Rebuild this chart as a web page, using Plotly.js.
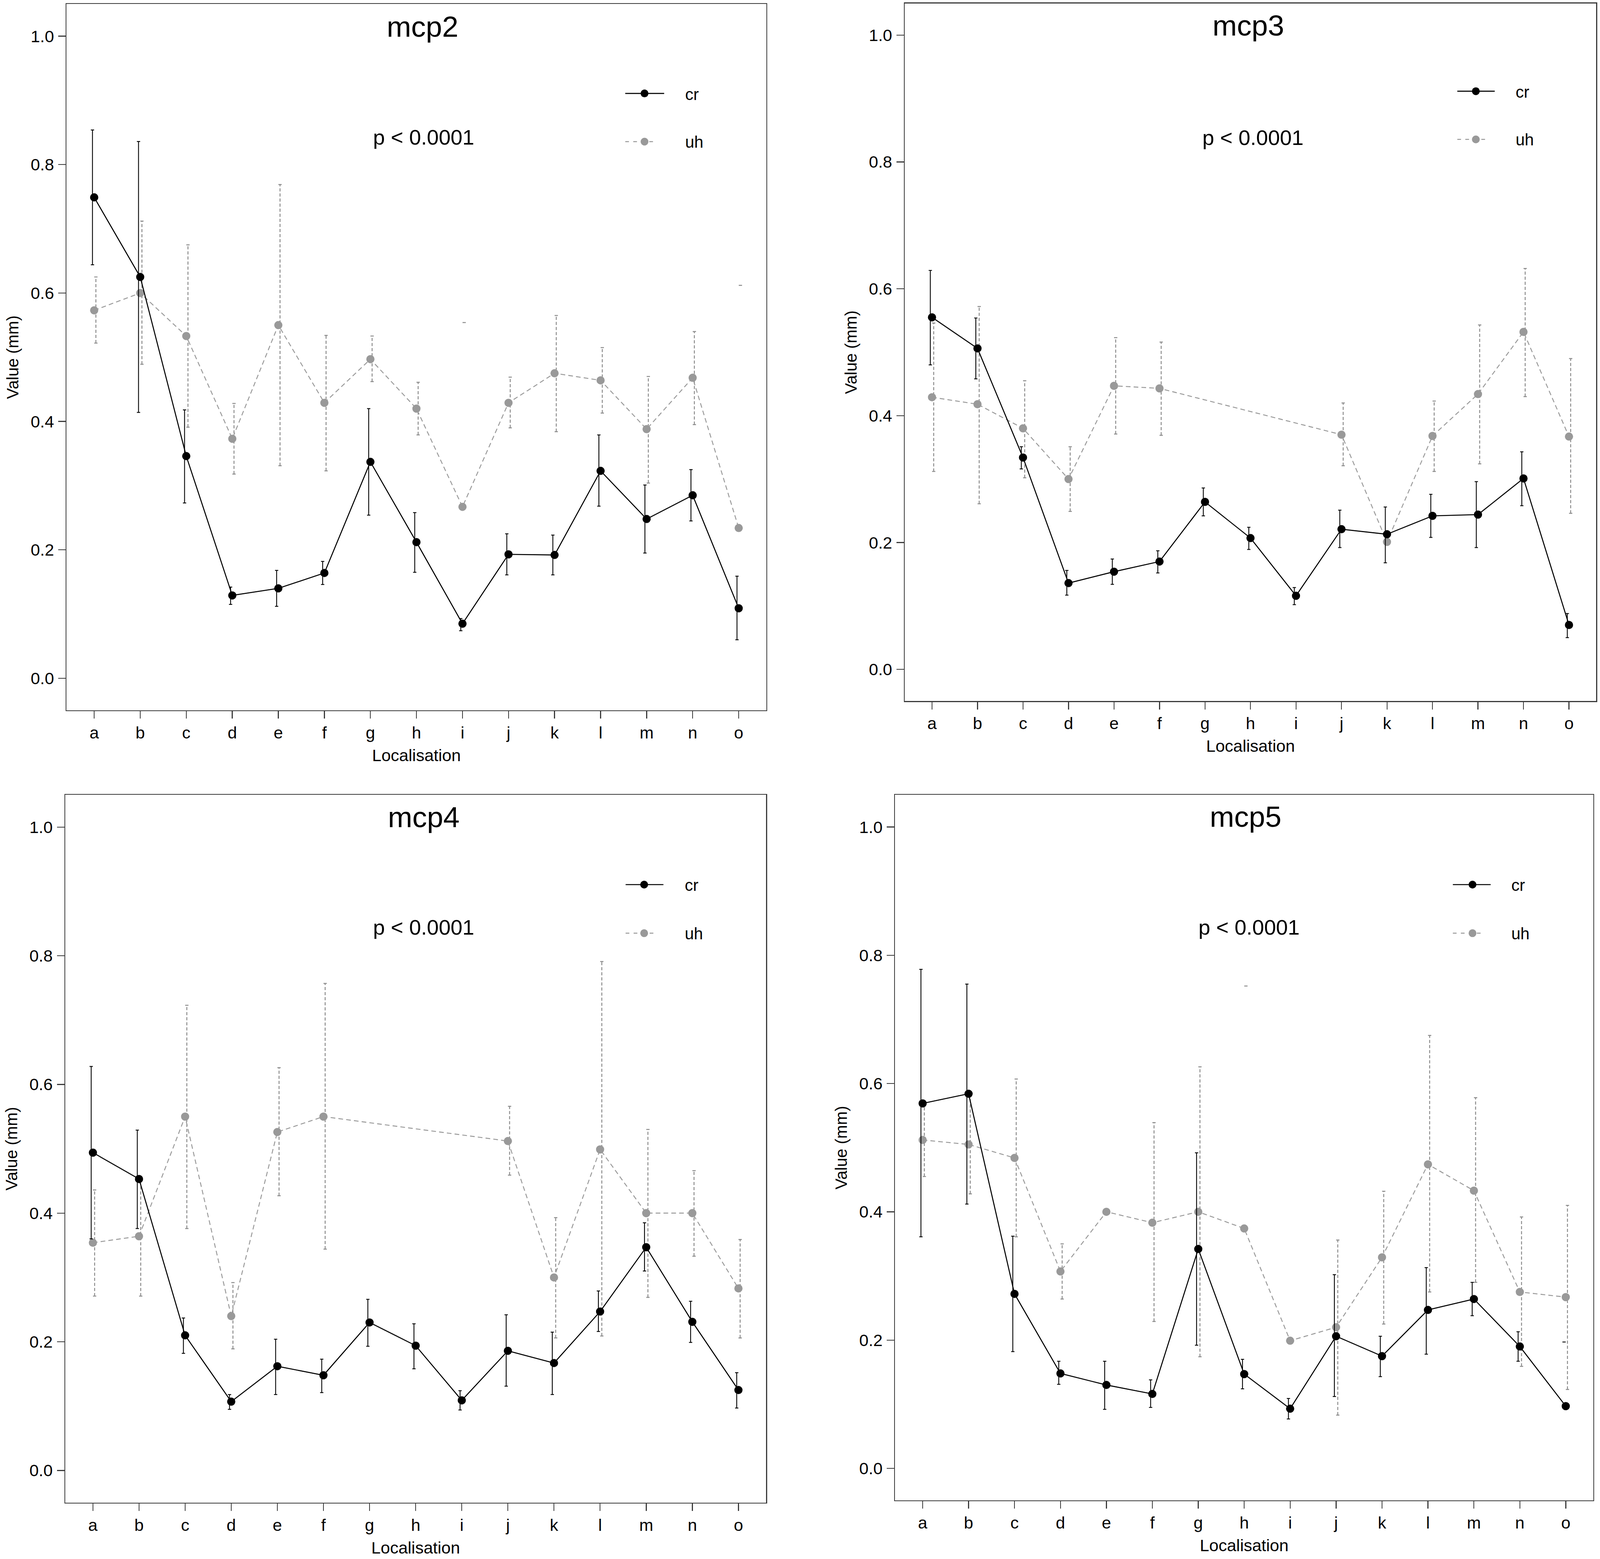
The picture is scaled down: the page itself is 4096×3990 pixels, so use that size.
<!DOCTYPE html>
<html><head><meta charset="utf-8">
<script src="https://cdn.plot.ly/plotly-3.0.1.min.js"></script>
<style>html,body{margin:0;padding:0;background:#fff;} #chart{width:4096px;height:3990px;}</style>
</head><body><div id="chart"></div>
<script>
// ---------- DATA ----------
const categories = ['a','b','c','d','e','f','g','h','i','j','k','l','m','n','o'];
const panelNames = ['mcp2','mcp3','mcp4','mcp5'];
const seriesNames = ['cr','uh'];
const pText = 'p < 0.0001';
const yTickVals = [0, 0.2, 0.4, 0.6, 0.8, 1.0];

// mcp2
const mcp2_cr    = [0.749,0.625,0.346,0.129,0.140,0.164,0.337,0.212,0.085,0.193,0.192,0.323,0.248,0.285,0.109];
const mcp2_cr_hi = [0.854,0.836,0.418,0.142,0.168,0.182,0.420,0.258,0.093,0.225,0.223,0.379,0.301,0.325,0.159];
const mcp2_cr_lo = [0.644,0.414,0.273,0.115,0.112,0.146,0.254,0.165,0.074,0.161,0.161,0.268,0.195,0.245,0.060];
const mcp2_uh    = [0.573,0.600,0.533,0.373,0.550,0.429,0.497,0.420,0.267,0.429,0.475,0.464,0.388,0.468,0.234];
const mcp2_uh_hi = [0.625,0.712,0.675,0.428,0.769,0.534,0.533,0.461,0.554,0.469,0.565,0.515,0.470,0.540,0.612];
const mcp2_uh_lo = [0.522,0.489,0.391,0.318,0.331,0.323,0.462,0.379,null,0.390,0.384,0.413,0.304,0.395,null];

// mcp3
const mcp3_cr    = [0.555,0.506,0.334,0.136,0.154,0.170,0.264,0.207,0.116,0.221,0.213,0.242,0.244,0.301,0.070];
const mcp3_cr_hi = [0.629,0.554,0.351,0.156,0.174,0.187,0.286,0.224,0.129,0.251,0.256,0.276,0.296,0.343,0.088];
const mcp3_cr_lo = [0.480,0.458,0.316,0.117,0.134,0.152,0.242,0.189,0.102,0.192,0.168,0.208,0.192,0.258,0.050];
const mcp3_uh    = [0.429,0.418,0.380,0.300,0.447,0.443,null,null,null,0.370,0.201,0.368,0.434,0.532,0.367];
const mcp3_uh_hi = [0.546,0.572,0.455,0.351,0.523,0.516,null,null,null,0.420,null,0.423,0.543,0.632,0.490];
const mcp3_uh_lo = [0.312,0.261,0.302,0.249,0.371,0.369,null,null,null,0.321,null,0.312,0.324,0.430,0.246];

// mcp4
const mcp4_cr    = [0.494,0.453,0.210,0.107,0.162,0.148,0.230,0.194,0.109,0.186,0.167,0.247,0.347,0.231,0.125];
const mcp4_cr_hi = [0.628,0.529,0.237,0.118,0.204,0.173,0.266,0.228,0.124,0.242,0.215,0.279,0.385,0.263,0.152];
const mcp4_cr_lo = [0.360,0.376,0.182,0.095,0.118,0.121,0.193,0.158,0.094,0.131,0.118,0.216,0.310,0.199,0.097];
const mcp4_uh    = [0.354,0.364,0.550,0.240,0.526,0.550,null,null,null,0.512,0.300,0.499,0.400,0.400,0.283];
const mcp4_uh_hi = [0.436,0.455,0.723,0.292,0.626,0.757,null,null,null,0.566,0.393,0.791,0.530,0.466,0.359];
const mcp4_uh_lo = [0.271,0.271,0.376,0.189,0.427,0.344,null,null,null,0.459,0.206,0.209,0.269,0.333,0.206];

// mcp5
const mcp5_cr    = [0.569,0.584,0.272,0.148,0.130,0.116,0.342,0.147,0.093,0.206,0.175,0.247,0.264,0.190,0.097];
const mcp5_cr_hi = [0.778,0.755,0.362,0.167,0.167,0.138,0.492,0.170,0.109,0.302,0.206,0.313,0.290,0.213,0.197];
const mcp5_cr_lo = [0.361,0.412,0.182,0.131,0.092,0.095,0.192,0.124,0.077,0.112,0.143,0.178,0.238,0.167,null];
const mcp5_uh    = [0.512,0.505,0.484,0.307,0.400,0.383,0.400,0.374,0.199,0.220,0.329,0.474,0.433,0.275,0.267];
const mcp5_uh_hi = [0.567,0.582,0.607,0.350,null,0.539,0.626,0.752,null,0.356,0.432,0.675,0.578,0.392,0.410];
const mcp5_uh_lo = [0.455,0.428,0.361,0.264,null,0.229,0.174,null,null,0.083,0.225,0.275,0.290,0.159,0.123];

// ---------- STYLE / LAYOUT ----------
const REFW = 4317, REFH = 4205;
const px = X => X / REFW;
const py = Y => 1 - Y / REFH;
const FONT = 'Liberation Sans, Arial, Helvetica, sans-serif';
const BLACK = '#000000', GRAY = '#999999', BARGRAY = '#8a8a8a', AXC = '#3a3a3a';
const OFF = 0.037;

const panels = [
  {cr:mcp2_cr, crLo:mcp2_cr_lo, crHi:mcp2_cr_hi, uh:mcp2_uh, uhLo:mcp2_uh_lo, uhHi:mcp2_uh_hi,
   xd:[0.04160,0.47895], yd:[0.54435,0.99738], title:[1140,72], p:[1143,370],
   leg:{x0:1687,x1:1792,xm:1739,xt:1847,y1:252,y2:382}},
  {cr:mcp3_cr, crLo:mcp3_cr_lo, crHi:mcp3_cr_hi, uh:mcp3_uh, uhLo:mcp3_uh_lo, uhHi:mcp3_uh_hi,
   xd:[0.56544,0.99768], yd:[0.55030,0.99786], title:[3368,68], p:[3381,371],
   leg:{x0:3932,x1:4033,xm:3982,xt:4087,y1:246,y2:376}},
  {cr:mcp4_cr, crLo:mcp4_cr_lo, crHi:mcp4_cr_hi, uh:mcp4_uh, uhLo:mcp4_uh_lo, uhHi:mcp4_uh_hi,
   xd:[0.04077,0.47881], yd:[0.03615,0.49013], title:[1143,2204], p:[1143,2501],
   leg:{x0:1688,x1:1790,xm:1738,xt:1845,y1:2386,y2:2517}},
  {cr:mcp5_cr, crLo:mcp5_cr_lo, crHi:mcp5_cr_hi, uh:mcp5_uh, uhLo:mcp5_uh_lo, uhHi:mcp5_uh_hi,
   xd:[0.55942,0.99583], yd:[0.03757,0.49013], title:[3361,2203], p:[3370,2501],
   leg:{x0:3920,x1:4022,xm:3973,xt:4076,y1:2386,y2:2517}}
];

const xpos = categories.map((c, i) => i + 1);

function barTraces(vals, lo, hi, off, color, width, dash, xa, ya) {
  const bx = [], by = [], cx = [], cy = [];
  vals.forEach((v, i) => {
    const x = xpos[i] + off;
    if (lo[i] != null && hi[i] != null) { bx.push(x, x, null); by.push(lo[i], hi[i], null); }
    if (lo[i] != null) { cx.push(x); cy.push(lo[i]); }
    if (hi[i] != null) { cx.push(x); cy.push(hi[i]); }
  });
  return [
    {type:'scatter', mode:'lines', x:bx, y:by, xaxis:xa, yaxis:ya, showlegend:false, hoverinfo:'skip',
     line:{color:color, width:width, dash:dash}},
    {type:'scatter', mode:'markers', x:cx, y:cy, xaxis:xa, yaxis:ya, showlegend:false, hoverinfo:'skip',
     marker:{symbol:'line-ew', size:6, line:{color:color, width:width}}}
  ];
}

const data = [];
const layout = {
  width:4096, height:3990, margin:{l:0,r:0,t:0,b:0}, paper_bgcolor:'#fff', plot_bgcolor:'#fff',
  showlegend:false, font:{family:FONT, color:'#000', size:43},
  annotations:[], shapes:[]
};

panels.forEach((P, k) => {
  const n = k === 0 ? '' : String(k + 1);
  const xa = 'x' + n, ya = 'y' + n;
  // gray (uh) first
  data.push(...barTraces(P.uh, P.uhLo, P.uhHi, OFF, BARGRAY, 2.4, '8px,5px', xa, ya));
  data.push({type:'scatter', mode:'lines+markers', name:seriesNames[1], x:xpos, y:P.uh, xaxis:xa, yaxis:ya,
    connectgaps:true, line:{color:GRAY, width:2.4, dash:'12px,8px'}, marker:{color:GRAY, size:21}});
  // black (cr)
  data.push(...barTraces(P.cr, P.crLo, P.crHi, -OFF, BLACK, 2.2, 'solid', xa, ya));
  data.push({type:'scatter', mode:'lines+markers', name:seriesNames[0], x:xpos, y:P.cr, xaxis:xa, yaxis:ya,
    line:{color:BLACK, width:2.6}, marker:{color:BLACK, size:21}});

  layout['xaxis' + n] = {
    domain:P.xd, anchor:ya, range:[0.4, 15.6], tickvals:xpos, ticktext:categories,
    ticks:'outside', ticklen:19, tickwidth:2.4, tickcolor:AXC,
    showline:true, mirror:true, linecolor:AXC, linewidth:2.4, showgrid:false, zeroline:false,
    tickfont:{family:FONT, size:43, color:'#000'}, ticklabelstandoff:-1,
    title:{text:'Localisation', font:{family:FONT, size:43, color:'#000'}, standoff:20}
  };
  layout['yaxis' + n] = {
    domain:P.yd, anchor:xa, range:[-0.05, 1.05], tickvals:yTickVals, tickformat:'.1f',
    ticks:'outside', ticklen:19, tickwidth:2.4, tickcolor:AXC,
    showline:true, mirror:true, linecolor:AXC, linewidth:2.4, showgrid:false, zeroline:false,
    tickfont:{family:FONT, size:43, color:'#000'}, ticklabelstandoff:2,
    title:{text:'Value (mm)', font:{family:FONT, size:42, color:'#000'}, standoff:18}
  };

  layout.annotations.push(
    {xref:'paper', yref:'paper', x:px(P.title[0]), y:py(P.title[1]), xanchor:'center', yanchor:'middle',
     text:panelNames[k], showarrow:false, font:{family:FONT, size:75, color:'#000'}},
    {xref:'paper', yref:'paper', x:px(P.p[0]), y:py(P.p[1]), xanchor:'center', yanchor:'middle',
     text:pText.replace('<','&lt;'), showarrow:false, font:{family:FONT, size:54.5, color:'#000'}},
    {xref:'paper', yref:'paper', x:px(P.leg.xt), y:py(P.leg.y1 + 2), xanchor:'left', yanchor:'middle',
     text:seriesNames[0], showarrow:false, font:{family:FONT, size:42, color:'#000'}},
    {xref:'paper', yref:'paper', x:px(P.leg.xt), y:py(P.leg.y2 + 1), xanchor:'left', yanchor:'middle',
     text:seriesNames[1], showarrow:false, font:{family:FONT, size:42, color:'#000'}}
  );
  const L = P.leg;
  layout.shapes.push(
    {type:'line', xref:'paper', yref:'paper', x0:px(L.x0), x1:px(L.x1), y0:py(L.y1), y1:py(L.y1),
     line:{color:BLACK, width:2.6}},
    {type:'line', xref:'paper', yref:'paper', x0:px(L.x0), x1:px(L.x1 - 20), y0:py(L.y2), y1:py(L.y2),
     line:{color:GRAY, width:2.4, dash:'9.5px,11px'}},
    {type:'circle', xref:'paper', yref:'paper', xsizemode:'pixel', ysizemode:'pixel',
     xanchor:px(L.xm), yanchor:py(L.y1), x0:-10, x1:10, y0:-10, y1:10,
     fillcolor:BLACK, line:{width:0}},
    {type:'circle', xref:'paper', yref:'paper', xsizemode:'pixel', ysizemode:'pixel',
     xanchor:px(L.xm), yanchor:py(L.y2), x0:-10, x1:10, y0:-10, y1:10,
     fillcolor:GRAY, line:{width:0}}
  );
});

Plotly.newPlot('chart', data, layout, {staticPlot:true, displayModeBar:false});
</script></body></html>
